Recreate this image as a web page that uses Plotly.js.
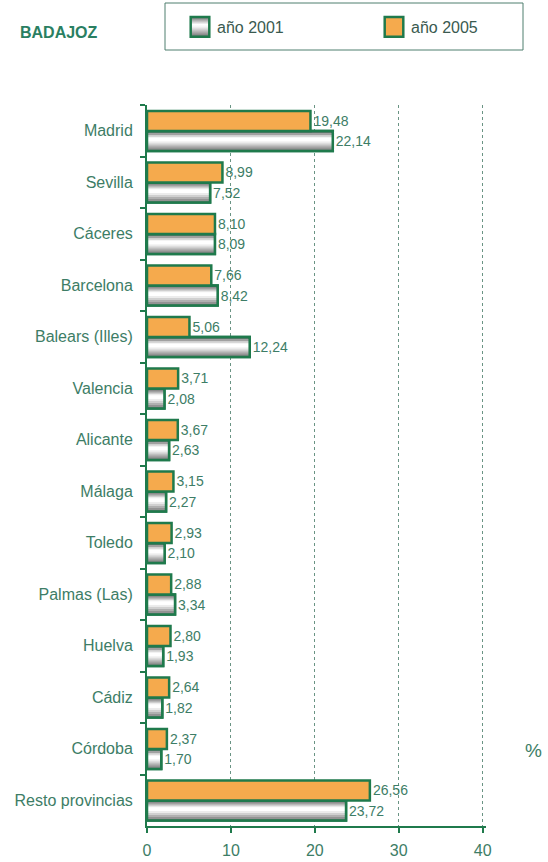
<!DOCTYPE html>
<html>
<head>
<meta charset="utf-8">
<script src="https://cdn.plot.ly/plotly-3.0.1.min.js"></script>
<style>html,body{margin:0;padding:0;background:#fff;}#chart{width:548px;height:862px;}</style>
</head>
<body>
<div id="chart"></div>
<script>
// ---- data ----
const provincias = ["Madrid","Sevilla","Cáceres","Barcelona","Balears (Illes)","Valencia","Alicante","Málaga","Toledo","Palmas (Las)","Huelva","Cádiz","Córdoba","Resto provincias"];
const anio2001 = [22.14,7.52,8.09,8.42,12.24,2.08,2.63,2.27,2.10,3.34,1.93,1.82,1.70,23.72];
const anio2005 = [19.48,8.99,8.10,7.66,5.06,3.71,3.67,3.15,2.93,2.88,2.80,2.64,2.37,26.56];
const xTicks = [0,10,20,30,40];
const serieNames = ["año 2001","año 2005"];
const chartTitle = "BADAJOZ";

// ---- styles ----
const GREEN = "#1f7a4c";
const TEXT = "#3d7d66";
const ORANGE = "#f5aa4d";
const FONT = "Liberation Sans, Arial, sans-serif";
const fmt = v => v.toFixed(2).replace(".", ",");

const W = 0.39;       // bar thickness (category units)
const OFF_O = -0.385; // orange offset
const OFF_G = 0.005;  // gray offset

// gradient strips for the gray bars: [start fraction, colour]; each runs to the bar bottom
const strips = [
  [0.10,"#a0a0a0"],[0.20,"#cfcfcf"],[0.28,"#f0f0f0"],[0.34,"#ffffff"],
  [0.52,"#ececec"],[0.62,"#d0d0d0"],[0.72,"#b0b0b0"],[0.82,"#939393"],[0.92,"#7c7c7c"]
];

const traces = [];
// base gray (legend entry)
traces.push({
  type:"bar", orientation:"h", y:provincias, x:anio2001, name:serieNames[0],
  width:W, offset:OFF_G, marker:{color:"#7a7a7a", line:{color:GREEN, width:2.5}},
  legend:"legend", hoverinfo:"skip"
});
strips.forEach(s => {
  traces.push({
    type:"bar", orientation:"h", y:provincias, x:anio2001, showlegend:false,
    width:W*(1-s[0]), offset:OFF_G + W*s[0],
    marker:{color:s[1], line:{width:0}}, hoverinfo:"skip"
  });
});
// outline + labels for gray
traces.push({
  type:"bar", orientation:"h", y:provincias, x:anio2001, showlegend:false,
  width:W, offset:OFF_G, marker:{color:"rgba(0,0,0,0)", line:{color:GREEN, width:2.5}},
  text:anio2001.map(fmt), textposition:"outside", cliponaxis:false, constraintext:"none",
  textfont:{family:FONT, size:14, color:TEXT}, hoverinfo:"skip"
});
// orange
traces.push({
  type:"bar", orientation:"h", y:provincias, x:anio2005, name:serieNames[1],
  width:W, offset:OFF_O, marker:{color:ORANGE, line:{color:GREEN, width:2.5}},
  text:anio2005.map(fmt), textposition:"outside", cliponaxis:false, constraintext:"none",
  textfont:{family:FONT, size:14, color:TEXT},
  legend:"legend2", hoverinfo:"skip"
});

const PW = 548 - 147 - 62; // plot width in px
const legendCommon = {orientation:"h", xanchor:"left", y:(826-27)/721, yanchor:"middle",
  bgcolor:"rgba(0,0,0,0)", borderwidth:0,
  font:{family:FONT, size:16, color:"#3a5a50"}};

const layout = {
  width:548, height:862,
  margin:{l:147, r:62, t:105, b:36, autoexpand:false},
  paper_bgcolor:"#ffffff", plot_bgcolor:"#ffffff",
  font:{family:FONT, color:TEXT, size:16},
  barmode:"overlay",
  showlegend:true,
  title:{text:"<b>"+chartTitle+"</b>", x:20/548, xanchor:"left", xref:"container",
         y:1-32/862, yanchor:"middle", yref:"container",
         font:{family:FONT, size:16, color:"#2a7f62"}},
  legend:Object.assign({x:(177-147)/PW}, legendCommon),
  legend2:Object.assign({x:(371-147)/PW}, legendCommon),
  xaxis:{range:[0,40.4], tickvals:xTicks, ticktext:xTicks.map(String),
         showgrid:true, gridcolor:"#6a9484", griddash:"dot", gridwidth:1,
         zeroline:false, showline:true, linecolor:GREEN, linewidth:2,
         ticks:"outside", ticklen:5, tickcolor:GREEN, tickwidth:2,
         ticklabelstandoff:4,
         tickfont:{size:16, color:TEXT}, fixedrange:true},
  yaxis:{type:"category", range:[13.5,-0.5], autorange:false, tickson:"boundaries",
         showline:true, linecolor:GREEN, linewidth:2, showgrid:false,
         ticks:"outside", ticklen:5, tickcolor:GREEN, tickwidth:2,
         ticklabelstandoff:9, tickfont:{size:16, color:TEXT}, fixedrange:true},
  shapes:[{type:"rect", xref:"paper", yref:"paper",
           x0:(165-147)/PW, x1:(523-147)/PW, y0:(826-50)/721, y1:(826-3)/721,
           line:{color:"#4f7f6e", width:1}, fillcolor:"rgba(0,0,0,0)"}],
  annotations:[{text:"%", xref:"paper", yref:"paper", x:(533-147)/PW, y:(826-750)/721,
                showarrow:false, xanchor:"center", yanchor:"middle",
                font:{size:19, color:TEXT}}]
};

Plotly.newPlot("chart", traces, layout, {staticPlot:true, displayModeBar:false}).then(gd => {
  // vertical metallic gradient for the 2001 legend swatch
  const svg = gd.querySelector("svg.main-svg");
  const ns = "http://www.w3.org/2000/svg";
  let defs = svg.querySelector("defs");
  if (!defs) { defs = document.createElementNS(ns, "defs"); svg.insertBefore(defs, svg.firstChild); }
  const lg = document.createElementNS(ns, "linearGradient");
  lg.setAttribute("id", "grayMetal");
  lg.setAttribute("x1", "0"); lg.setAttribute("y1", "0");
  lg.setAttribute("x2", "0"); lg.setAttribute("y2", "1");
  [["0","#6f6f6f"],["0.38","#ffffff"],["0.5","#f4f4f4"],["1","#6f6f6f"]].forEach(s => {
    const st = document.createElementNS(ns, "stop");
    st.setAttribute("offset", s[0]); st.setAttribute("stop-color", s[1]);
    lg.appendChild(st);
  });
  defs.appendChild(lg);
  // enlarge legend swatches (both legends) to the reference size
  gd.querySelectorAll(".legendpoints path").forEach(p => {
    const t = p.getAttribute("transform") || "";
    p.setAttribute("transform", t + " translate(3,0) scale(1.55,1.65)");
    p.style.strokeWidth = "1.6px";
  });
  const first = gd.querySelector(".legend .legendpoints path");
  if (first) first.style.fill = "url(#grayMetal)";
});
</script>
</body>
</html>
